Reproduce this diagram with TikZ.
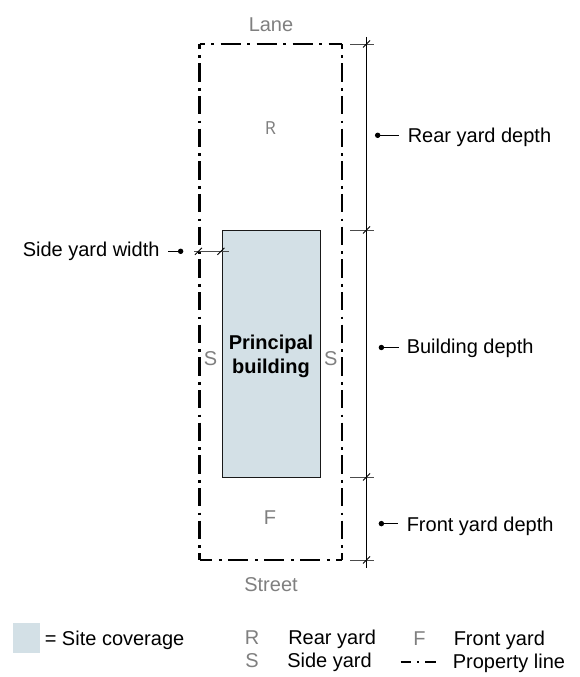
\documentclass[tikz,border=0pt]{standalone}
\usepackage{fontspec}
\setmainfont{Liberation Sans}
\newfontfamily\rfont{Open Sans}
\definecolor{bldg}{HTML}{D3E0E6}
\definecolor{yardgray}{HTML}{7F7F7F}
\usetikzlibrary{arrows.meta}
\tikzset{
  txt/.style={font=\fontsize{15}{18}\selectfont,text=black,inner sep=0pt,anchor=base west},
  yard/.style={font=\fontsize{15}{18}\selectfont,text=yardgray,inner sep=0pt,anchor=base},
  hprop/.style={line width=1.9pt,dash pattern=on 15pt off 5pt on 2pt off 5pt},
  vprop/.style={line width=1.9pt,dash pattern=on 13.8pt off 4.6pt on 2pt off 4.1pt},
  thin line/.style={line width=0.8pt,black},
  ext/.style={line width=0.6pt,black!70},
  tick/.style={line width=0.6pt,black},
  leader/.style={line width=0.7pt,black,{Circle[length=4pt]}-},
}
\begin{document}
\begin{tikzpicture}[x=0.75pt,y=-0.75pt]
\useasboundingbox (0,0) rectangle (580,677);
% building
\node[draw=black!90,line width=1pt,fill=bldg,minimum width=73.5pt,minimum height=185.25pt,inner sep=0pt,anchor=north west] (bldg) at (222,230) {};
\node[font=\fontsize{15}{18}\selectfont\bfseries,align=center,inner sep=0pt,anchor=base] (pb) at (271,373.5) {Principal\\building};
% property line
\coordinate (tl) at (199.5,44);
\coordinate (tr) at (342,44);
\coordinate (bl) at (199.5,560);
\coordinate (br) at (342,560);
\draw[hprop,dash phase=11.1pt] (tl) -- (tr);
\draw[hprop,dash phase=5.4pt] (bl) -- (br);
\draw[vprop,dash phase=10pt] (tl) -- (bl);
\draw[vprop,dash phase=10pt] (tr) -- (br);
% dimension line
\coordinate (dt) at (366.5,37);
\coordinate (db) at (366.5,568);
\draw[thin line] (dt) -- (db);
\foreach \y/\n in {44/a,230/b,477/c,560/d}{
  \coordinate (e\n l) at (350,\y);
  \coordinate (e\n r) at (374,\y);
  \draw[ext] (e\n l) -- (e\n r);
  \draw[tick] (363,\y+3.5) -- (370,\y-3.5);
}
% side yard
\coordinate (sl) at (194,251.3);
\coordinate (sr) at (228.5,251.3);
\draw[ext] (sl) -- (sr);
\draw[tick] (195,254.8) -- (202,247.8);
\draw[tick] (217.5,254.8) -- (224.5,247.8);
% labels
\node[yard] (lane) at (271,31.7) {Lane};
\node[yard] (street) at (271,591.7) {Street};
\node[yard,font=\rfont\fontsize{13.5}{16}\selectfont] (rr) at (270.5,135) {R};
\node[yard] (ff) at (270,524) {F};
\node[yard] (s1) at (210.5,365) {S};
\node[yard] (s2) at (330.7,365) {S};
\node[txt] (rd) at (407.5,142.7) {Rear yard depth};
\node[txt] (bd) at (406.5,353.3) {Building depth};
\node[txt] (fd) at (406.5,531) {Front yard depth};
\node[txt] (sw) at (22.5,256.7) {Side yard width};
\coordinate (rdd) at (375,135.3);
\coordinate (bdd) at (378.7,347.5);
\coordinate (fdd) at (378.7,523.6);
\coordinate (swd) at (183.3,251.3);
\draw[leader] (rdd) -- (399,135.3);
\draw[leader] (bdd) -- (399,347.5);
\draw[leader] (fdd) -- (397.7,523.6);
\draw[leader] (swd) -- (167.7,251.3);
% legend
\fill[bldg] (13,623) rectangle (40,653);
\node[txt] (sc) at (44.5,645) {= Site coverage};
\node[yard] (lr) at (252,644.5) {R};
\node[txt] (lrt) at (288,644.5) {Rear yard};
\node[yard] (lf) at (419.5,645) {F};
\node[txt] (lft) at (453.5,645) {Front yard};
\node[yard] (ls) at (252,667.7) {S};
\node[txt] (lst) at (287,667.7) {Side yard};
\node[txt] (lpt) at (452.5,668.3) {Property line};
\coordinate (p1) at (400.7,661.7);
\coordinate (p2) at (436.7,661.7);
\draw[line width=1.5pt,dash pattern=on 8pt off 4.5pt on 1.5pt off 4.5pt] (p1) -- (p2);
\end{tikzpicture}
\end{document}
